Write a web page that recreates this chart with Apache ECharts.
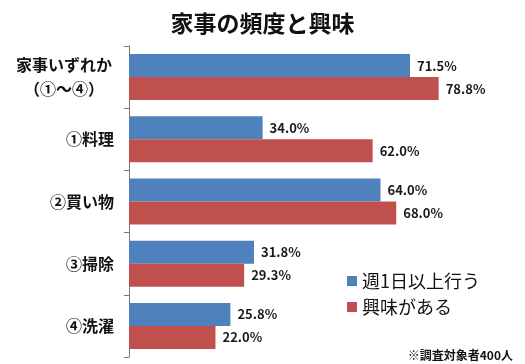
<!DOCTYPE html>
<html>
<head>
<meta charset="utf-8">
<script src="https://cdn.jsdelivr.net/npm/echarts@6/dist/echarts.min.js"></script>
<style>html,body{margin:0;padding:0;background:#fff}#c{width:525px;height:364px}</style>
</head>
<body>
<div id="c"></div>
<script>
const categories = ['家事いずれか\n（①～④）', '①料理', '②買い物', '③掃除', '④洗濯'];
const seriesNames = ['週1日以上行う', '興味がある'];
const weeklyValues = [71.5, 34.0, 64.0, 31.8, 25.8];
const interestValues = [78.8, 62.0, 68.0, 29.3, 22.0];
const colors = ['#4F81BD', '#C0504D'];
const FONT = '"Noto Sans CJK JP", "Noto Sans", sans-serif';

const chart = echarts.init(document.getElementById('c'), null, {renderer: 'canvas'});
const labelCfg = {
  show: true, position: 'right', distance: 7,
  formatter: p => p.value.toFixed(1) + '%',
  fontFamily: FONT, fontSize: 13, fontWeight: 'bold', color: '#1a1a1a'
};
chart.setOption({
  animation: false,
  backgroundColor: '#fff',
  title: [
    {text: '家事の頻度と興味', left: 'center', top: 12, padding: 0,
     textStyle: {fontFamily: FONT, fontSize: 23, fontWeight: 'bold', color: '#111'}},
    {text: '※調査対象者400人', right: 12, bottom: 3, padding: 0,
     textStyle: {fontFamily: FONT, fontSize: 12, fontWeight: 'bold', color: '#111'}}
  ],
  legend: {
    orient: 'vertical', left: 347, top: 272, padding: 0,
    itemWidth: 10, itemHeight: 10, itemGap: 8, icon: 'rect',
    textStyle: {fontFamily: FONT, fontSize: 18, color: '#111'},
    data: seriesNames
  },
  grid: {left: 129, right: 3, top: 46, bottom: 7, containLabel: false},
  xAxis: {type: 'value', min: 0, max: 100, show: false},
  yAxis: {
    type: 'category', inverse: true, data: categories,
    axisLine: {show: true, lineStyle: {color: '#777', width: 1}},
    axisTick: {show: true, length: 5, lineStyle: {color: '#777'}},
    axisLabel: {
      margin: 15, color: '#111',
      formatter: (v, i) => i === 0 ? v.split('\n').map(s => '{c|' + s + '}').join('\n') : v,
      fontFamily: FONT, fontSize: 16, fontWeight: 'bold',
      rich: {c: {width: 100, align: 'center', fontFamily: FONT, fontSize: 16, fontWeight: 'bold', color: '#111', lineHeight: 24}}
    }
  },
  series: [
    {name: seriesNames[0], type: 'bar', data: weeklyValues, barGap: '0%', barCategoryGap: '26%',
     itemStyle: {color: colors[0]}, label: labelCfg},
    {name: seriesNames[1], type: 'bar', data: interestValues, barGap: '0%', barCategoryGap: '26%',
     itemStyle: {color: colors[1]}, label: labelCfg}
  ]
});
</script>
</body>
</html>
